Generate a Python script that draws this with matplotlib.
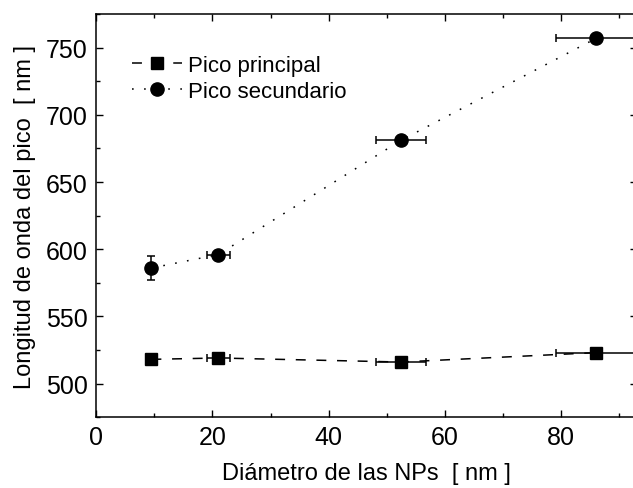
import matplotlib
matplotlib.use("Agg")
import matplotlib.pyplot as plt
from matplotlib.ticker import MultipleLocator

plt.rcParams['font.family'] = ['Liberation Sans', 'DejaVu Sans']

# NP diameter (nm) and its uncertainty
diametro = [9.5, 21.0, 52.4, 86.0]
diametro_err = [0.0, 2.0, 4.3, 6.9]

# Main peak wavelength (nm)
pico_principal = [518, 519, 516, 523]
pico_principal_err = [4.0, 0.0, 0.0, 0.0]

# Secondary peak wavelength (nm)
pico_secundario = [586, 596, 681, 757]
pico_secundario_err = [9.0, 0.0, 0.0, 0.0]

fig = plt.figure(figsize=(6.33, 4.89), dpi=100)
ax = fig.add_axes([0.152, 0.145, 0.854, 0.824])

lw = 1.1
ax.plot(diametro, pico_principal, color='black', lw=lw, dashes=(6.5, 7.0),
        marker='s', ms=8.5, label='Pico principal', zorder=3)
ax.plot(diametro, pico_secundario, color='black', lw=lw, dashes=(1.1, 6.8),
        marker='o', ms=9.5, label='Pico secundario', zorder=3)

ax.errorbar(diametro, pico_principal, xerr=diametro_err, yerr=pico_principal_err,
            fmt='none', ecolor='black', elinewidth=1.1, capsize=3.2, capthick=1.1)
ax.errorbar(diametro, pico_secundario, xerr=diametro_err, yerr=pico_secundario_err,
            fmt='none', ecolor='black', elinewidth=1.1, capsize=3.2, capthick=1.1)

ax.set_xlim(0, 93)
ax.set_ylim(475, 775)
ax.xaxis.set_major_locator(MultipleLocator(20))
ax.xaxis.set_minor_locator(MultipleLocator(10))
ax.yaxis.set_major_locator(MultipleLocator(50))
ax.yaxis.set_minor_locator(MultipleLocator(25))
ax.tick_params(which='both', direction='in', top=True, right=True, width=1.0,
               labelsize=18, pad=6)
ax.tick_params(which='major', length=5)
ax.tick_params(which='minor', length=3)
for s in ax.spines.values():
    s.set_linewidth(1.1)

ax.set_xlabel('Diámetro de las NPs  [ nm ]', fontsize=17, labelpad=9)
ax.set_ylabel('Longitud de onda del pico  [ nm ]', fontsize=17, labelpad=7)

ax.legend(loc='upper left', bbox_to_anchor=(0.067, 0.898), frameon=False,
          fontsize=16, numpoints=1, handlelength=2.25, handletextpad=0.25,
          labelspacing=0.2, borderaxespad=0.0, borderpad=0.0)

fig.savefig('out.png', dpi=100)
